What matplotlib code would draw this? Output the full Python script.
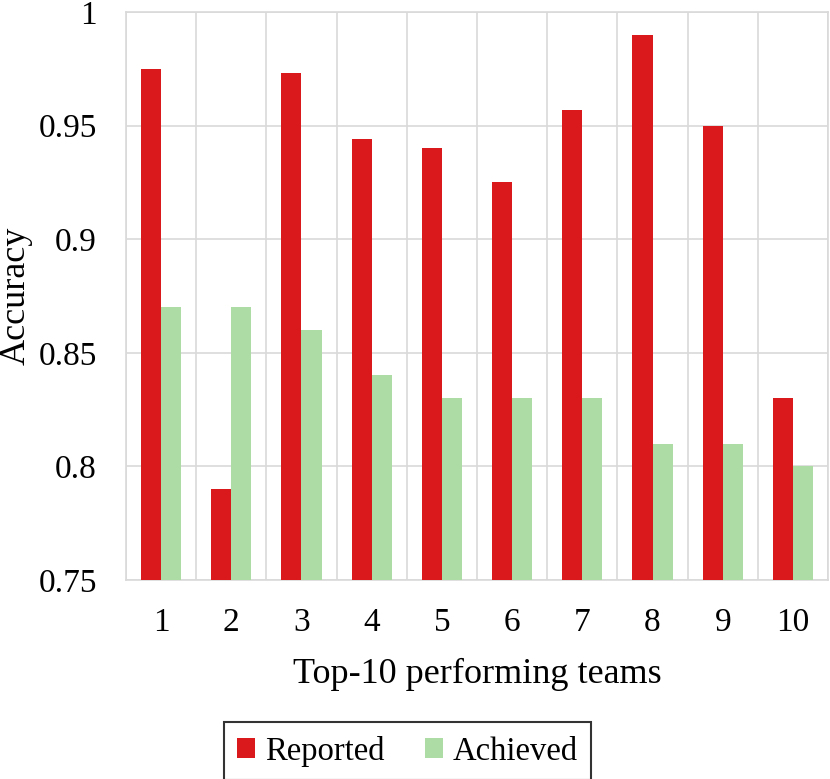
import matplotlib.pyplot as plt
import numpy as np

plt.rcParams['font.family'] = ['Liberation Serif', 'DejaVu Serif']

teams = ['1', '2', '3', '4', '5', '6', '7', '8', '9', '10']
reported = [0.975, 0.79, 0.973, 0.944, 0.94, 0.925, 0.957, 0.99, 0.95, 0.83]
achieved = [0.87, 0.87, 0.86, 0.84, 0.83, 0.83, 0.83, 0.81, 0.81, 0.80]

red = '#d9191c'
green = '#addda5'
grid = '#d9d9d9'

fig = plt.figure(figsize=(8.3, 7.79), dpi=100)
ax = fig.add_axes([0.1518, 0.2555, 0.8458, 0.7291])

x = np.arange(1, len(teams) + 1)
w = 0.285
ax.bar(x - w / 2, reported, width=w, color=red, label='Reported', zorder=3)
ax.bar(x + w / 2, achieved, width=w, color=green, label='Achieved', zorder=3)

ax.set_xlim(0.5, 10.5)
ax.set_ylim(0.75, 1.0)
ax.set_yticks([0.75, 0.8, 0.85, 0.9, 0.95, 1.0])
ax.set_yticklabels(['0.75', '0.8', '0.85', '0.9', '0.95', '1'])
ax.set_xticks(x)
ax.set_xticklabels(teams)

# gridlines between categories and at y ticks
for b in np.arange(0.5, 11, 1):
    ax.axvline(b, color=grid, lw=1.2, zorder=1)
ax.yaxis.grid(True, color=grid, lw=1.2, zorder=1)
ax.set_axisbelow(True)
for s in ax.spines.values():
    s.set_color(grid)
    s.set_linewidth(1.2)

ax.tick_params(axis='both', length=0, labelsize=24)
ax.tick_params(axis='y', pad=21)
ax.tick_params(axis='x', pad=20)

ax.set_xlabel('Top-10 performing teams', fontsize=26, labelpad=14)
ax.set_ylabel('Accuracy', fontsize=26, va='center')
ax.yaxis.set_label_coords(-0.157, 0.5)

leg = fig.legend(loc='center', bbox_to_anchor=(0.491, 0.0359), ncol=2,
                 fontsize=23.5, frameon=True, fancybox=False, handlelength=0.55,
                 handleheight=0.55, handletextpad=0.3, columnspacing=1.25,
                 borderpad=0.4, borderaxespad=0)
leg.get_frame().set_edgecolor('black')
leg.get_frame().set_linewidth(1.5)

fig.savefig('out.png', dpi=100)
